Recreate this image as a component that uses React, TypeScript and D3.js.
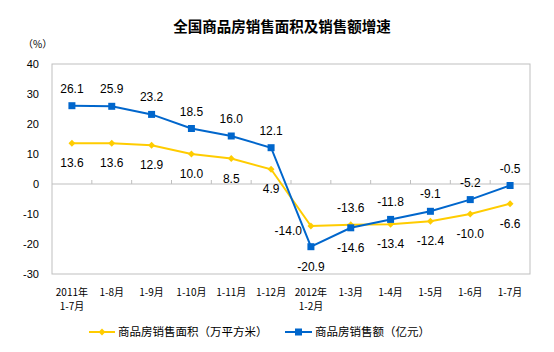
import React from "react";
import * as d3 from "d3";

const categories = [
  ["2011年", "1-7月"],
  ["1-8月"],
  ["1-9月"],
  ["1-10月"],
  ["1-11月"],
  ["1-12月"],
  ["2012年", "1-2月"],
  ["1-3月"],
  ["1-4月"],
  ["1-5月"],
  ["1-6月"],
  ["1-7月"],
];
const areaGrowth = [13.6, 13.6, 12.9, 10.0, 8.5, 4.9, -14.0, -13.6, -13.4, -12.4, -10.0, -6.6];
const salesGrowth = [26.1, 25.9, 23.2, 18.5, 16.0, 12.1, -20.9, -14.6, -11.8, -9.1, -5.2, -0.5];
// label placement: "a" above, "b" below, "l" left
const areaLabelPos = ["b", "b", "b", "b", "b", "b", "l", "a", "b", "b", "b", "b"];
const salesLabelPos = ["a", "a", "a", "a", "a", "a", "b", "b", "a", "a", "a", "a"];
const yTicks = [40, 30, 20, 10, 0, -10, -20, -30];
const seriesNames = ["商品房销售面积（万平方米）", "商品房销售额（亿元）"];
const title = "全国商品房销售面积及销售额增速";

const W = 554, H = 352;
const left = 52, right = 530, top = 64, bottom = 274;
const YELLOW = "#FFCC00", BLUE = "#0066CC";
const CJK = "'Noto Sans CJK SC', sans-serif";
const NUM = "'Liberation Sans', Arial, sans-serif";

export default function App() {
  const x = d3.scaleBand<number>().domain(d3.range(categories.length)).range([left, right]);
  const y = d3.scaleLinear().domain([-30, 40]).range([bottom, top]);
  const cx = (i: number) => (x(i) as number) + x.bandwidth() / 2;
  const line = d3.line<number>().x((_, i) => cx(i)).y((d) => y(d));
  const diamond = d3.symbol().type(d3.symbolDiamond2).size(30)();

  const label = (v: number, i: number, pos: string, key: string) => {
    let lx = cx(i), ly = y(v), anchor = "middle";
    if (pos === "a") ly -= 13;
    else if (pos === "b") ly += 24;
    else { lx -= 9; ly += 9; anchor = "end"; }
    return (
      <text key={key} x={lx} y={ly} textAnchor={anchor} fontFamily={NUM} fontSize={12} fill="#000">
        {v.toFixed(1)}
      </text>
    );
  };

  return (
    <svg width={W} height={H} style={{ position: "absolute", left: 0, top: 0 }}>
      <rect width={W} height={H} fill="#fff" />
      <text x={282} y={32} textAnchor="middle" fontFamily={CJK} fontSize={14.5} fontWeight="bold">{title}</text>
      <text x={23} y={48} fontFamily={CJK} fontSize={10}>（%）</text>
      <rect x={left} y={top} width={right - left} height={bottom - top} fill="none" stroke="#BFBFBF" strokeWidth={1} />
      <line x1={left} x2={right} y1={y(0)} y2={y(0)} stroke="#BFBFBF" />
      {d3.range(1, categories.length).map((i) => (
        <line key={i} x1={x(i) as number} x2={x(i) as number} y1={y(0) - 4} y2={y(0)} stroke="#BFBFBF" />
      ))}
      {yTicks.map((t) => (
        <text key={t} x={39} y={y(t) + 4} textAnchor="end" fontFamily={NUM} fontSize={11}>{t}</text>
      ))}
      {categories.map((c, i) =>
        c.map((s, j) => (
          <text key={i + "-" + j} x={cx(i)} y={296 + j * 14} textAnchor="middle" fontFamily={CJK} fontSize={10}>{s}</text>
        ))
      )}
      <path d={line(areaGrowth) || ""} fill="none" stroke={YELLOW} strokeWidth={2} />
      <path d={line(salesGrowth) || ""} fill="none" stroke={BLUE} strokeWidth={2} />
      {areaGrowth.map((v, i) => (
        <path key={"d" + i} d={diamond || ""} transform={`translate(${cx(i)},${y(v)})`} fill={YELLOW} />
      ))}
      {salesGrowth.map((v, i) => (
        <rect key={"s" + i} x={cx(i) - 3.5} y={y(v) - 3.5} width={7} height={7} fill={BLUE} />
      ))}
      {areaGrowth.map((v, i) => label(v, i, areaLabelPos[i], "la" + i))}
      {salesGrowth.map((v, i) => label(v, i, salesLabelPos[i], "ls" + i))}
      <line x1={89} x2={115} y1={332} y2={332} stroke={YELLOW} strokeWidth={2} />
      <path d={diamond || ""} transform="translate(102,332)" fill={YELLOW} />
      <text x={118} y={336} fontFamily={CJK} fontSize={11.5}>{seriesNames[0]}</text>
      <line x1={285} x2={312} y1={332} y2={332} stroke={BLUE} strokeWidth={2} />
      <rect x={295} y={328.5} width={7} height={7} fill={BLUE} />
      <text x={315} y={336} fontFamily={CJK} fontSize={11.5}>{seriesNames[1]}</text>
    </svg>
  );
}
